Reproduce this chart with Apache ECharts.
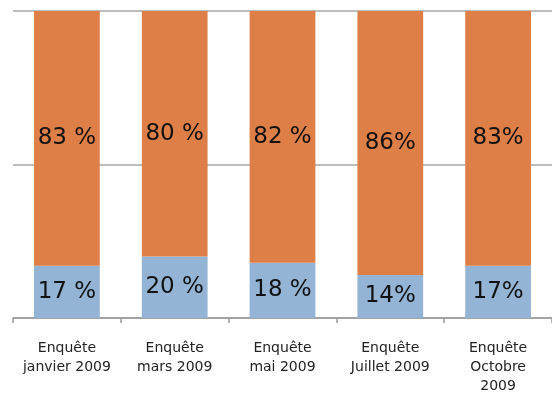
<!DOCTYPE html>
<html>
<head>
<meta charset="utf-8">
<script src="https://cdn.jsdelivr.net/npm/echarts@6/dist/echarts.min.js"></script>
<style>
  html, body { margin: 0; padding: 0; background: #fff; }
  #chart { width: 552px; height: 400px; }
</style>
</head>
<body>
<div id="chart"></div>
<script>
// enquêtes
const categories = [
  "Enquête\njanvier 2009",
  "Enquête\nmars 2009",
  "Enquête\nmai 2009",
  "Enquête\nJuillet 2009",
  "Enquête\nOctobre\n2009"
];
const bottomValues = [17, 20, 18, 14, 17];
const topValues = [83, 80, 82, 86, 83];
const bottomLabels = ["17 %", "20 %", "18 %", "14%", "17%"];
const topLabels = ["83 %", "80 %", "82 %", "86%", "83%"];

const chart = echarts.init(document.getElementById("chart"));
const font = "DejaVu Sans";

const option = {
  animation: false,
  grid: { left: 13, right: -1, top: 11, bottom: 82, containLabel: false },
  xAxis: {
    type: "category",
    data: categories,
    axisLine: { show: true, lineStyle: { color: "#9a9a9a", width: 1.5 } },
    axisTick: { show: true, length: 5, lineStyle: { color: "#9a9a9a", width: 1.5 } },
    axisLabel: {
      interval: 0,
      margin: 21,
      color: "#222",
      fontFamily: font,
      fontSize: 14,
      lineHeight: 19
    }
  },
  yAxis: {
    type: "value",
    min: 0,
    max: 100,
    interval: 50,
    axisLabel: { show: false },
    axisLine: { show: false },
    axisTick: { show: false },
    splitLine: { lineStyle: { color: "#a6a6a6", width: 1.5 } }
  },
  series: [
    {
      type: "bar",
      stack: "t",
      data: bottomValues,
      barWidth: "61%",
      itemStyle: { color: "#93b4d4" },
      label: {
        show: true,
        position: "inside",
        color: "#111",
        fontFamily: font,
        fontSize: 23,
        formatter: (p) => bottomLabels[p.dataIndex]
      }
    },
    {
      type: "bar",
      stack: "t",
      data: topValues,
      barWidth: "61%",
      itemStyle: { color: "#de7f47" },
      label: {
        show: true,
        position: "inside",
        color: "#111",
        fontFamily: font,
        fontSize: 23,
        formatter: (p) => topLabels[p.dataIndex]
      }
    }
  ]
};

chart.setOption(option);
</script>
</body>
</html>
